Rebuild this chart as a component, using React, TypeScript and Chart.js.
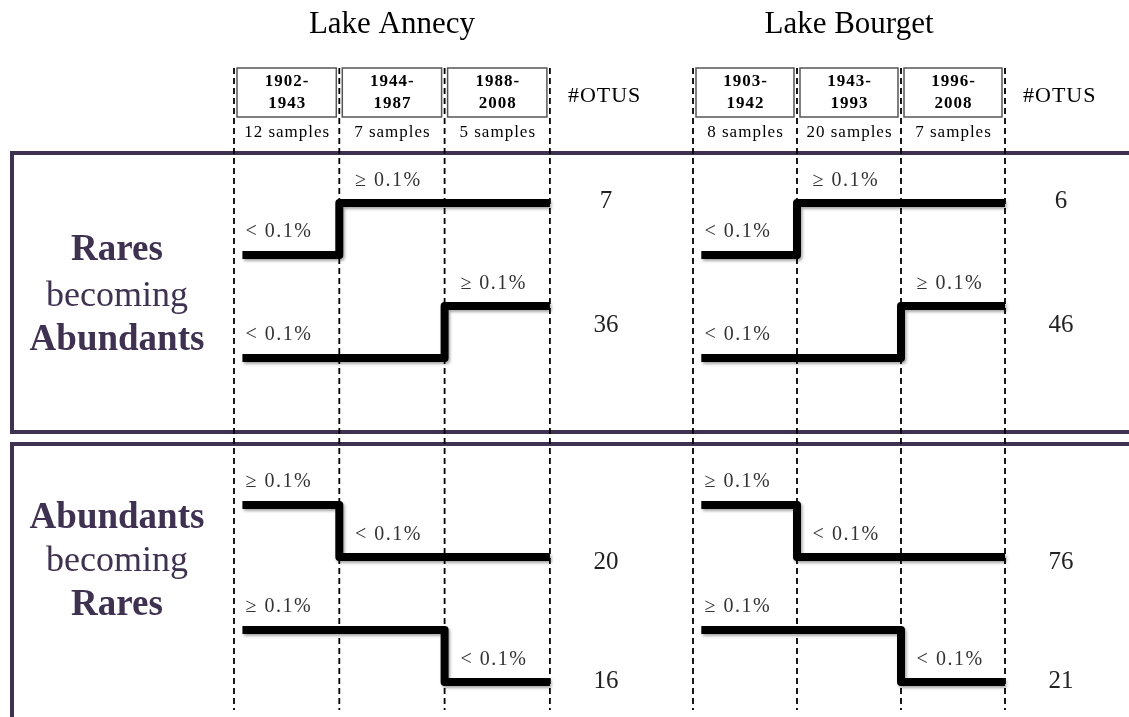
import { useEffect, useRef } from "react";
import { Chart, registerables } from "chart.js";

Chart.register(...registerables);

// ---------- data ----------
const lakeNames = ["Lake Annecy", "Lake Bourget"];
const annecyPeriods = ["1902-1943", "1944-1987", "1988-2008"];
const annecySamples = [12, 7, 5];
const bourgetPeriods = ["1903-1942", "1943-1993", "1996-2008"];
const bourgetSamples = [8, 20, 7];
// abundance state per period: 0 = "< 0.1%", 1 = "≥ 0.1%"
const rowPatterns = [
  [0, 1, 1],
  [0, 0, 1],
  [1, 0, 0],
  [1, 1, 0],
];
const annecyOtus = [7, 36, 20, 16];
const bourgetOtus = [6, 46, 76, 21];
const levelLabels = ["< 0.1%", "\u2265 0.1%"];
const otuHeader = "#OTUS";
const groupLabels = [
  ["Rares", "becoming", "Abundants"],
  ["Abundants", "becoming", "Rares"],
];
const groupBold = [true, false, true];

// ---------- layout ----------
const W = 1129;
const H = 717;
const SERIF = "'Liberation Serif', 'Times New Roman', serif";
const PURPLE = "#3f3151";
const ROW_LOW = [255, 358, 557, 682];
const STEP_H = 52;
const NUM_Y = [201, 325, 562, 681];
const GROUP_Y = [
  [250, 297, 340],
  [518, 562, 605],
];
const BOX_TOP = 68;
const BOX_BOTTOM = 117;
const DASH_TOP = 68;
const DASH_BOTTOM = 710;

const lakes = [
  { axis: "xA", periods: annecyPeriods, samples: annecySamples, otus: annecyOtus },
  { axis: "xB", periods: bourgetPeriods, samples: bourgetSamples, otus: bourgetOtus },
];

const lineY = (row: number, state: number) => ROW_LOW[row] - state * STEP_H;

function txt(
  ctx: CanvasRenderingContext2D,
  s: string,
  x: number,
  y: number,
  size: number,
  o: { bold?: boolean; color?: string; align?: CanvasTextAlign; spacing?: number } = {}
) {
  ctx.save();
  ctx.font = `${o.bold ? "bold " : ""}${size}px ${SERIF}`;
  ctx.fillStyle = o.color || "#000";
  ctx.textAlign = o.align || "center";
  ctx.textBaseline = "middle";
  const sp = o.spacing || 0;
  (ctx as any).letterSpacing = `${sp}px`;
  // compensate trailing spacing for centred text
  const dx = (o.align || "center") === "center" ? sp / 2 : 0;
  ctx.fillText(s, x + dx, y);
  ctx.restore();
}

const framePlugin = {
  id: "frames",
  beforeDatasetsDraw(chart: any) {
    const ctx: CanvasRenderingContext2D = chart.ctx;
    ctx.save();
    ctx.strokeStyle = PURPLE;
    ctx.lineWidth = 4;
    ctx.beginPath();
    ctx.moveTo(W + 5, 153);
    ctx.lineTo(12, 153);
    ctx.lineTo(12, 432);
    ctx.lineTo(W + 5, 432);
    ctx.stroke();
    ctx.beginPath();
    ctx.moveTo(W + 5, 444);
    ctx.lineTo(12, 444);
    ctx.lineTo(12, H + 5);
    ctx.stroke();
    ctx.restore();
  },
  beforeDatasetDraw(chart: any, args: any) {
    const ds = chart.data.datasets[args.index];
    const ctx: CanvasRenderingContext2D = chart.ctx;
    ctx.save();
    if (ds.borderWidth > 4) {
      ctx.shadowColor = "rgba(0,0,0,0.35)";
      ctx.shadowBlur = 3;
      ctx.shadowOffsetX = 1.5;
      ctx.shadowOffsetY = 2;
    }
  },
  afterDatasetDraw(chart: any) {
    chart.ctx.restore();
  },
  afterDatasetsDraw(chart: any) {
    const ctx: CanvasRenderingContext2D = chart.ctx;
    // group labels
    groupLabels.forEach((words, g) => {
      words.forEach((w, i) => {
        txt(ctx, w, 117, GROUP_Y[g][i], groupBold[i] ? 37 : 36, { bold: groupBold[i], color: PURPLE });
      });
    });
    lakes.forEach((lake, li) => {
      const sc = chart.scales[lake.axis];
      const px = (v: number) => sc.getPixelForValue(v);
      // title
      txt(ctx, lakeNames[li], (px(0) + px(3)) / 2, 25, 31);
      // header boxes
      lake.periods.forEach((p, i) => {
        const x0 = px(i) + 3;
        const x1 = px(i + 1) - 3;
        ctx.save();
        ctx.fillStyle = "#fff";
        ctx.fillRect(x0, BOX_TOP, x1 - x0, BOX_BOTTOM - BOX_TOP);
        ctx.strokeStyle = "#555";
        ctx.lineWidth = 1.5;
        ctx.strokeRect(x0, BOX_TOP, x1 - x0, BOX_BOTTOM - BOX_TOP);
        ctx.restore();
        const [a, b] = p.split("-");
        const cx = (px(i) + px(i + 1)) / 2;
        txt(ctx, a + "-", cx, 82, 17, { bold: true, spacing: 1 });
        txt(ctx, b, cx, 104, 17, { bold: true, spacing: 1 });
        txt(ctx, `${lake.samples[i]} samples`, cx, 133, 17, { spacing: 1 });
      });
      // #OTUS header
      txt(ctx, otuHeader, px(3) + 18, 96, 22, { align: "left", spacing: 1 });
      // level labels and OTU counts
      rowPatterns.forEach((pat, r) => {
        txt(ctx, levelLabels[pat[0]], px(0.11), lineY(r, pat[0]) - 23, 20, {
          align: "left",
          color: "#333",
          spacing: 1.5,
        });
        const k = pat.findIndex((s) => s !== pat[0]);
        txt(ctx, levelLabels[pat[k]], px(k + 0.15), lineY(r, pat[k]) - 22, 20, {
          align: "left",
          color: "#333",
          spacing: 1.5,
        });
        txt(ctx, String(lake.otus[r]), px(3) + 56, NUM_Y[r], 25, { color: "#222" });
      });
    });
  },
};

export default function App() {
  const ref = useRef<HTMLCanvasElement>(null);
  useEffect(() => {
    const canvas = ref.current!;
    const datasets: any[] = [];
    lakes.forEach((lake) => {
      for (let b = 0; b <= 3; b++) {
        datasets.push({
          data: [
            { x: b, y: DASH_TOP },
            { x: b, y: DASH_BOTTOM },
          ],
          xAxisID: lake.axis,
          yAxisID: "y",
          borderColor: "#000",
          borderWidth: 1.8,
          borderDash: [6, 4],
          pointRadius: 0,
        });
      }
    });
    lakes.forEach((lake) => {
      rowPatterns.forEach((pat, r) => {
        datasets.push({
          data: [
            { x: 0.08, y: lineY(r, pat[0]) },
            { x: 1, y: lineY(r, pat[1]) },
            { x: 2, y: lineY(r, pat[2]) },
            { x: 3, y: lineY(r, pat[2]) },
          ],
          xAxisID: lake.axis,
          yAxisID: "y",
          stepped: true,
          borderColor: "#000",
          borderWidth: 8,
          borderJoinStyle: "round",
          borderCapStyle: "butt",
          pointRadius: 0,
        });
      });
    });
    const chart = new Chart(canvas, {
      type: "line",
      data: { datasets },
      options: {
        animation: false,
        responsive: true,
        maintainAspectRatio: false,
        layout: { padding: 0 },
        plugins: { legend: { display: false }, tooltip: { enabled: false } },
        events: [],
        scales: {
          xA: { type: "linear", display: false, min: -234 / 105.3, max: (W - 234) / 105.3 },
          xB: { type: "linear", display: false, min: -693 / 104, max: (W - 693) / 104 },
          y: { type: "linear", display: false, min: 0, max: H, reverse: true },
        },
      },
      plugins: [framePlugin],
    });
    return () => chart.destroy();
  }, []);
  return (
    <div style={{ position: "fixed", left: 0, top: 0, width: W, height: H, background: "#fff" }}>
      <canvas ref={ref} />
    </div>
  );
}
